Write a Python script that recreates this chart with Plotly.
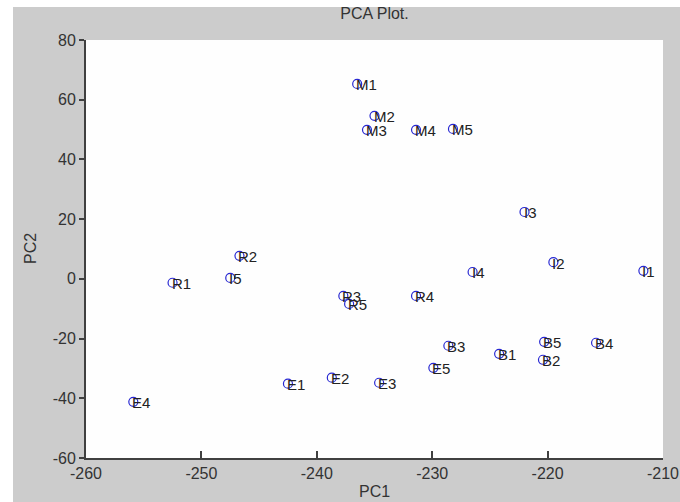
import plotly.graph_objects as go

# Sample names and their principal component scores
labels = ["M1", "M2", "M3", "M4", "M5",
          "I1", "I2", "I3", "I4", "I5",
          "R1", "R2", "R3", "R4", "R5",
          "B1", "B2", "B3", "B4", "B5",
          "E1", "E2", "E3", "E4", "E5"]
pc1 = [-236.5, -235.0, -235.65, -231.4, -228.2,
       -211.7, -219.5, -222.0, -226.5, -247.5,
       -252.5, -246.7, -237.7, -231.4, -237.2,
       -224.2, -220.4, -228.6, -215.8, -220.3,
       -242.5, -238.7, -234.6, -255.9, -229.9]
pc2 = [65.3, 54.6, 49.9, 49.9, 50.2,
       2.7, 5.6, 22.4, 2.3, 0.3,
       -1.3, 7.7, -5.7, -5.7, -8.4,
       -25.1, -27.1, -22.4, -21.4, -21.1,
       -35.1, -33.1, -34.8, -41.2, -29.8]

x_ticks = [-260, -250, -240, -230, -220, -210]
y_ticks = [-60, -40, -20, 0, 20, 40, 60, 80]
x_ticktext = [str(v) for v in x_ticks]
y_ticktext = [str(v) for v in y_ticks]

FONT = "Liberation Sans, Arial, sans-serif"
W, H = 680, 502
ML, MR, MT, MB = 86, 17, 40, 44
pw, ph = W - ML - MR, H - MT - MB

fig = go.Figure()
fig.add_trace(go.Scatter(
    x=pc1, y=pc2, mode="markers",
    marker=dict(symbol="circle-open", size=9, color="rgb(40,40,210)",
                line=dict(width=1.2, color="rgb(40,40,210)")),
    hoverinfo="text", text=labels, showlegend=False,
))

annotations = [
    dict(x=xv, y=yv, text=t, xref="x", yref="y", showarrow=False,
         xanchor="left", yanchor="middle", borderpad=0, xshift=-2, yshift=-1,
         font=dict(family=FONT, size=15, color="#222222"))
    for xv, yv, t in zip(pc1, pc2, labels)
]

# axis titles
annotations.append(dict(text="PC1", xref="paper", yref="paper", x=0.5,
                        y=(-(491 - (MT + ph)) / ph), showarrow=False,
                        xanchor="center", yanchor="middle",
                        font=dict(family=FONT, size=16, color="#333333")))
annotations.append(dict(text="PC2", xref="paper", yref="paper",
                        x=(30 - ML) / pw, y=0.5, showarrow=False, textangle=-90,
                        xanchor="center", yanchor="middle",
                        font=dict(family=FONT, size=16, color="#333333")))

# grey figure panel, then the white axes area on top of it
def px_x(p):
    return (p - ML) / pw

def px_y(p):
    return (MT + ph - p) / ph

shapes = [
    dict(type="rect", xref="paper", yref="paper", layer="below",
         x0=px_x(13), x1=px_x(W + 30), y0=px_y(H + 30), y1=px_y(7),
         fillcolor="#cccccc", line=dict(width=0)),
    dict(type="rect", xref="paper", yref="paper", layer="below",
         x0=0, x1=1, y0=0, y1=1,
         fillcolor="#fefefe", line=dict(width=0)),
]

fig.update_layout(
    width=W, height=H,
    margin=dict(l=ML, r=MR, t=MT, b=MB, autoexpand=False),
    paper_bgcolor="white",
    plot_bgcolor="rgba(0,0,0,0)",
    font=dict(family=FONT, size=16, color="#333333"),
    title=dict(text="PCA Plot.", x=(ML + pw / 2) / W, xanchor="center",
               y=1 - 13 / H, yanchor="middle", yref="container",
               font=dict(family=FONT, size=16, color="#333333")),
    xaxis=dict(range=[-260, -210], tickvals=x_ticks, ticktext=x_ticktext,
               ticks="inside", automargin=False,
               ticklen=7, tickwidth=1.5, tickcolor="#404040",
               showline=True, linecolor="#404040", linewidth=2,
               showgrid=False, zeroline=False, mirror=False,
               tickfont=dict(family=FONT, size=16, color="#333333")),
    yaxis=dict(range=[-60, 80], tickvals=y_ticks, ticktext=y_ticktext,
               ticks="outside", automargin=False,
               ticklen=5, tickwidth=1.5, tickcolor="#404040",
               showline=True, linecolor="#404040", linewidth=2,
               showgrid=False, zeroline=False, mirror=False,
               tickfont=dict(family=FONT, size=16, color="#333333")),
    annotations=annotations,
    shapes=shapes,
)

fig.write_html("out.html", config={"displayModeBar": False})
